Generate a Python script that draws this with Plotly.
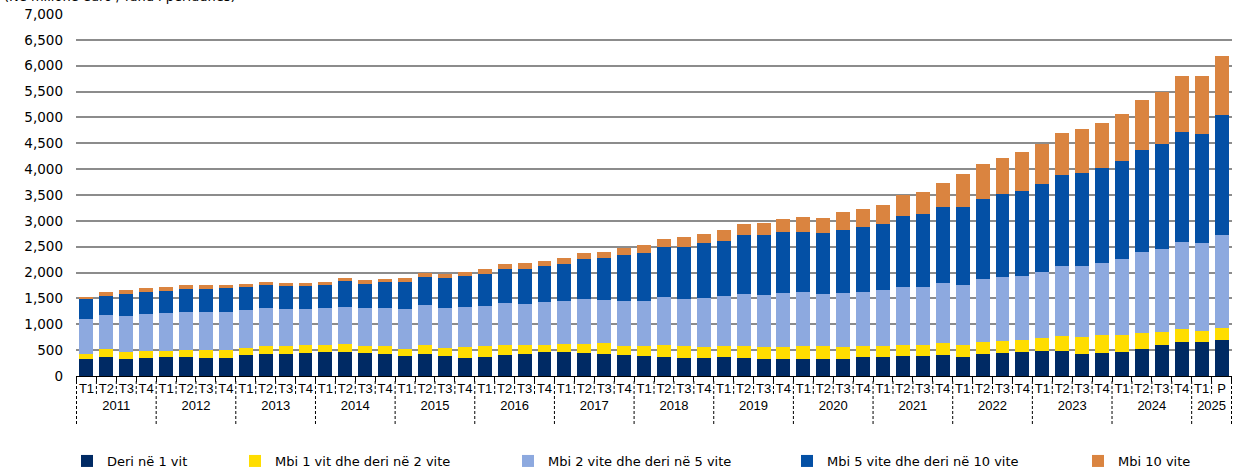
import plotly.graph_objects as go

years = ["2011"]*4 + ["2012"]*4 + ["2013"]*4 + ["2014"]*4 + ["2015"]*4 + ["2016"]*4 + ["2017"]*4 + \
        ["2018"]*4 + ["2019"]*4 + ["2020"]*4 + ["2021"]*4 + ["2022"]*4 + ["2023"]*4 + ["2024"]*4 + ["2025"]*2
quarters = ["T1", "T2", "T3", "T4"]*14 + ["T1", "P"]

# cumulative tops (million EUR)
top_dark = [323, 369, 330, 349, 362, 369, 349, 356, 408, 427, 427, 446, 459, 466, 453, 433,
            395, 420, 388, 349, 369, 408, 427, 459, 466, 453, 420, 408, 388, 375, 349, 349,
            362, 356, 330, 323, 323, 335, 335, 361, 368, 387, 381, 406, 374, 419, 439, 458,
            477, 477, 426, 452, 458, 529, 594, 658, 658, 697]
top_yellow = [420, 518, 466, 479, 479, 498, 498, 498, 537, 589, 576, 595, 602, 615, 589, 582,
              531, 595, 543, 556, 576, 608, 602, 595, 621, 628, 634, 582, 576, 595, 582, 556,
              576, 589, 556, 563, 572, 581, 555, 574, 581, 606, 606, 632, 594, 665, 684, 690,
              736, 774, 748, 787, 787, 839, 845, 903, 865, 929]
top_lblue = [1093, 1178, 1158, 1197, 1210, 1236, 1242, 1242, 1275, 1313, 1288, 1300, 1320, 1333, 1320, 1320,
             1300, 1365, 1313, 1333, 1359, 1404, 1391, 1423, 1449, 1482, 1469, 1449, 1456, 1520, 1495, 1514,
             1540, 1592, 1566, 1605, 1625, 1594, 1606, 1619, 1658, 1729, 1723, 1794, 1755, 1871, 1910, 1942,
             2019, 2136, 2129, 2187, 2258, 2394, 2458, 2587, 2568, 2723]
top_blue = [1482, 1553, 1585, 1630, 1650, 1689, 1689, 1708, 1727, 1766, 1734, 1747, 1760, 1831, 1786, 1824,
            1824, 1921, 1902, 1941, 1980, 2077, 2077, 2122, 2174, 2271, 2277, 2336, 2381, 2491, 2504, 2569,
            2620, 2724, 2724, 2782, 2785, 2768, 2832, 2878, 2936, 3091, 3136, 3265, 3265, 3420, 3516, 3587,
            3716, 3884, 3923, 4026, 4155, 4374, 4491, 4716, 4684, 5039]
top_orange = [1533, 1630, 1656, 1702, 1715, 1753, 1753, 1760, 1779, 1818, 1792, 1799, 1818, 1889, 1857, 1876,
              1896, 1993, 1980, 2012, 2064, 2167, 2187, 2232, 2284, 2387, 2400, 2484, 2530, 2653, 2679, 2750,
              2821, 2944, 2950, 3028, 3072, 3065, 3168, 3232, 3303, 3491, 3555, 3736, 3903, 4097, 4207, 4329,
              4491, 4691, 4768, 4891, 5065, 5336, 5497, 5794, 5794, 6194]

deri_1 = top_dark
mbi_1_2 = [b - a for a, b in zip(top_dark, top_yellow)]
mbi_2_5 = [b - a for a, b in zip(top_yellow, top_lblue)]
mbi_5_10 = [b - a for a, b in zip(top_lblue, top_blue)]
mbi_10 = [b - a for a, b in zip(top_blue, top_orange)]

series_names = ["Deri në 1 vit", "Mbi 1 vit dhe deri në 2 vite", "Mbi 2 vite dhe deri në 5 vite",
                "Mbi 5 vite dhe deri në 10 vite", "Mbi 10 vite"]
series_vals = [deri_1, mbi_1_2, mbi_2_5, mbi_5_10, mbi_10]
colors = ["#002A64", "#FFDD00", "#8DA9DF", "#0450A5", "#DA8440"]

W, H = 1235, 468
L, R, T, B = 76, 3, 14, 92
pw = W - L - R
ph = H - T - B

fig = go.Figure()
legend_ids = ["legend2", "legend3", "legend4", "legend5", "legend6"]
for name, vals, col, lg in zip(series_names, series_vals, colors, legend_ids):
    fig.add_trace(go.Bar(x=[years, quarters], y=vals, name=name, marker_color=col,
                         marker_line_width=0, legend=lg))

# legend placement (pixel x of each legend box)
legend_px = [67, 235, 508, 787, 1078]
leg_y = (T + ph - 461) / ph
legend_cfg = {}
for lg, px in zip(legend_ids, legend_px):
    legend_cfg[lg] = dict(x=(px - L) / pw, y=leg_y, xanchor="left", yanchor="middle",
                          orientation="h", font=dict(family="DejaVu Sans", size=13, color="#000"),
                          bgcolor="rgba(0,0,0,0)", itemwidth=30, tracegroupgap=0)

# dashed separators: short at every quarter boundary, long at year boundaries
shapes = []
prev = None
n = len(years)
for i in range(n + 1):
    is_year = (i == 0) or (i == n) or (years[i] != years[i - 1])
    depth = 50 if is_year else 18
    shapes.append(dict(type="line", xref="x", yref="paper", x0=i - 0.5, x1=i - 0.5,
                       y0=-5 / ph, y1=-depth / ph, line=dict(color="#000", width=1, dash="3px,2px")))

fig.update_layout(
    barmode="stack",
    bargap=0.3,
    width=W, height=H,
    margin=dict(l=L, r=R, t=T, b=B, autoexpand=False),
    paper_bgcolor="white", plot_bgcolor="white",
    font=dict(family="Liberation Sans, Arial", size=13, color="#000"),
    shapes=shapes,
    showlegend=True,
    annotations=[dict(text="(Në milionë euro / fund i periudhës)", xref="paper", yref="paper",
                      x=(2 - L) / pw, y=1 + 8 / ph, xanchor="left", yanchor="bottom", showarrow=False,
                      font=dict(family="DejaVu Sans", size=13, color="#000"))],
    **legend_cfg,
)
fig.update_yaxes(range=[0, 7000], dtick=500, tickformat=",", showgrid=True, gridcolor="#8C8C8C",
                 gridwidth=1.5, zeroline=False, showline=False, ticks="", ticklabelstandoff=12,
                 tickfont=dict(family="DejaVu Sans", size=13.5))
fig.update_xaxes(type="multicategory", showline=True, linecolor="#000", linewidth=1,
                 ticks="outside", tickson="boundaries", ticklen=5, tickcolor="#000",
                 showdividers=False, tickangle=0, tickfont=dict(size=13))

fig.write_html("out.html", config={"displayModeBar": False},
               post_script="document.body.style.margin='0';document.body.style.overflow='hidden';")
